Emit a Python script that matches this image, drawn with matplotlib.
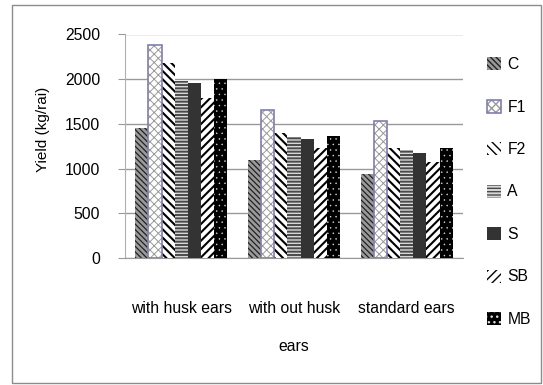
import numpy as np
import matplotlib
matplotlib.use('Agg')
import matplotlib.pyplot as plt
from matplotlib.patches import Rectangle, Patch

plt.rcParams['font.family'] = ['Liberation Sans', 'DejaVu Sans']

groups = ['with husk ears', 'with out husk\nears', 'standard ears']
series = ['C', 'F1', 'F2', 'A', 'S', 'SB', 'MB']
C  = [1450, 1100, 940]
F1 = [2380, 1650, 1530]
F2 = [2180, 1400, 1230]
A  = [1980, 1350, 1210]
S  = [1960, 1330, 1180]
SB = [1790, 1230, 1070]
MB = [2000, 1370, 1230]
values = [C, F1, F2, A, S, SB, MB]

# face, hatch, hatch colour, hatch linewidth
styles = [
    ('#9a9a9a', '\\\\\\\\\\\\', '#222222', 0.9),
    ('white', 'xxxx', '#9a9a9a', 0.7),
    ('white', '\\\\\\\\', 'black', 1.5),
    ('#d8d8d8', '-----', '#4a4a4a', 1.4),
    ('#333333', None, '#333333', 1.0),
    ('white', '////', 'black', 1.5),
    ('black', '...', '#dddddd', 0.3),
]

fig = plt.figure(figsize=(5.43, 3.85), dpi=100)
fig.patches.append(Rectangle((12/543, 2/385), 529/543, 378/385, transform=fig.transFigure,
                             fill=False, edgecolor='#8c8c8c', lw=1.0))
ax = fig.add_axes([125/543, 127/385, 338/543, 223.5/385])

x = np.arange(len(groups))
w = 0.117
handles = []
for i, (name, vals) in enumerate(zip(series, values)):
    face, hatch, hc, hlw = styles[i]
    pos = x + (i - 3) * w
    with plt.rc_context({'hatch.linewidth': hlw}):
        bars = ax.bar(pos, vals, w, color=face, hatch=hatch, edgecolor=hc, linewidth=0, zorder=3)
        h = Patch(facecolor=face, hatch=hatch, edgecolor=hc, linewidth=0)
    for b in bars:
        if hasattr(b, 'set_hatch_linewidth'):
            b.set_hatch_linewidth(hlw)
    if hasattr(h, 'set_hatch_linewidth'):
        h.set_hatch_linewidth(hlw)
    if name == 'F1':
        ax.bar(pos, vals, w, fill=False, edgecolor='#7e7eb0', linewidth=1.2, zorder=4)
        o = Patch(fill=False, edgecolor='#7e7eb0', linewidth=1.2)
        handles.append((h, o))
    else:
        handles.append(h)

ax.set_xlim(-0.5, 2.5)
ax.set_ylim(0, 2500)
ax.set_yticks([0, 500, 1000, 1500, 2000, 2500])
ax.set_xticks(x)
ax.set_xticklabels(groups, fontsize=11.3, linespacing=2.9)
ax.tick_params(axis='x', length=0, pad=31)
ax.tick_params(axis='y', length=5, color='#999999', labelsize=11.3, pad=13)
ax.yaxis.grid(True, color='#999999', lw=1.0, zorder=0)
for s in ['top', 'right']:
    ax.spines[s].set_visible(False)
ax.spines['left'].set_color('#b0b0b0')
ax.spines['bottom'].set_color('#999999')

fig.text(43/543, 1 - 129/385, 'Yield (kg/rai)', rotation=90, fontsize=11,
         ha='center', va='center')

fig.legend(handles, series, loc='center left', bbox_to_anchor=(487/543, 1 - 192/385),
           frameon=False, fontsize=11.3, handlelength=0.9, handleheight=0.9,
           labelspacing=1.75, handletextpad=0.4, borderpad=0, borderaxespad=0)

fig.savefig('out.png', dpi=100)
